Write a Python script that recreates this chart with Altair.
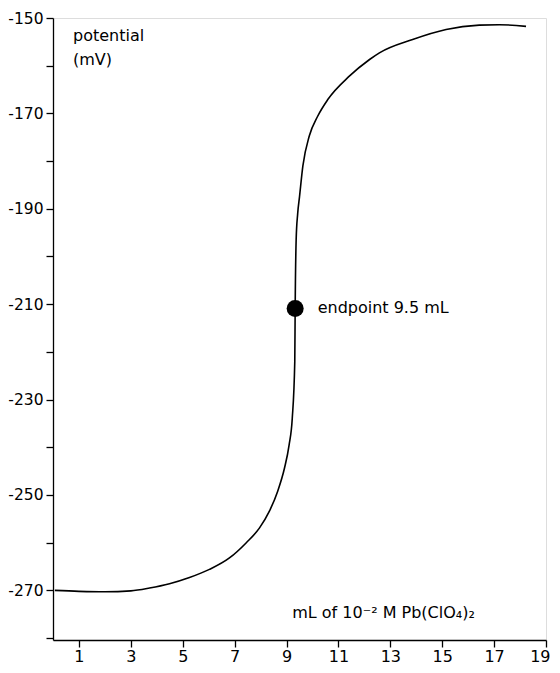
import altair as alt
import pandas as pd

# titration curve
volume = [0.07, 1.0, 2.0, 3.0, 3.72, 4.49, 5.26, 6.03, 6.80, 7.45, 7.96, 8.34, 8.66, 8.92,
          9.10, 9.22, 9.318, 9.333, 9.371, 9.43, 9.50, 9.63, 9.88, 10.2, 10.59, 11.42,
          12.20, 12.58, 13.86, 15.15, 16.43, 17.2, 18.23]
potential = [-270.0, -270.2, -270.3, -270.1, -269.5, -268.6, -267.3, -265.6, -263.2, -260.0,
             -256.9, -253.4, -249.2, -244.4, -239.5, -234.0, -222.0, -210.9, -196.5, -191.0,
             -187.5, -181.0, -174.7, -170.6, -167.1, -162.2, -158.7, -157.3, -154.5, -152.4,
             -151.5, -151.4, -151.75]

endpoint_x = [9.333]
endpoint_y = [-210.9]

x_ticks = [1, 3, 5, 7, 9, 11, 13, 15, 17, 19]
y_ticks = [-280, -270, -260, -250, -240, -230, -220, -210, -200, -190, -180, -170, -160, -150]

ann_text = ["potential", "(mV)", "endpoint 9.5 mL", "mL of 10\u207b\u00b2 M Pb(ClO\u2084)\u2082"]
ann_x = [0.77, 0.77, 10.2, 9.22]
ann_y = [-154.9, -159.8, -210.9, -275.7]
ann_base = ["alphabetic", "alphabetic", "middle", "alphabetic"]

FONT = "DejaVu Sans"

curve = pd.DataFrame({"v": volume, "p": potential})
pt = pd.DataFrame({"v": endpoint_x, "p": endpoint_y})
ann = pd.DataFrame({"t": ann_text, "v": ann_x, "p": ann_y, "b": ann_base})

xs = alt.Scale(domain=[0, 19], nice=False, zero=False)
ys = alt.Scale(domain=[-280.4, -150], nice=False, zero=False)

xax = alt.Axis(values=x_ticks, title=None, grid=False, domainColor="black", tickColor="black",
               domainWidth=1.3, tickWidth=1.3, tickSize=7, labelFont=FONT, labelFontSize=16,
               labelColor="black", labelPadding=1, labelFlush=True, labelFlushOffset=4)
yax = alt.Axis(values=y_ticks, title=None, grid=False, domainColor="black", tickColor="black",
               domainWidth=1.3, tickWidth=1.3, tickSize=7, labelFont=FONT, labelFontSize=15.5,
               labelColor="black", labelPadding=3, labelFlush=False,
               labelExpr="datum.value % 20 == 0 ? '' : '-' + abs(datum.value)")

line = alt.Chart(curve).mark_line(color="black", strokeWidth=1.6, interpolate="monotone").encode(
    x=alt.X("v:Q", scale=xs, axis=xax),
    y=alt.Y("p:Q", scale=ys, axis=yax),
)

dot = alt.Chart(pt).mark_circle(color="black", opacity=1, size=290).encode(
    x=alt.X("v:Q", scale=xs),
    y=alt.Y("p:Q", scale=ys),
)

texts = []
for b in ["alphabetic", "middle"]:
    texts.append(
        alt.Chart(ann[ann.b == b]).mark_text(align="left", baseline=b, font=FONT, fontSize=16,
                                             color="black").encode(
            x=alt.X("v:Q", scale=xs),
            y=alt.Y("p:Q", scale=ys),
            text="t:N",
        )
    )

chart = alt.layer(line, dot, *texts).properties(
    width=493, height=622,
    autosize=alt.AutoSizeParams(type="none"),
    padding={"left": 45, "top": 10, "right": 6, "bottom": 25},
).configure_view(stroke=None).configure(background="white")

chart.save("out.html", embed_options={"renderer": "svg", "actions": False})
